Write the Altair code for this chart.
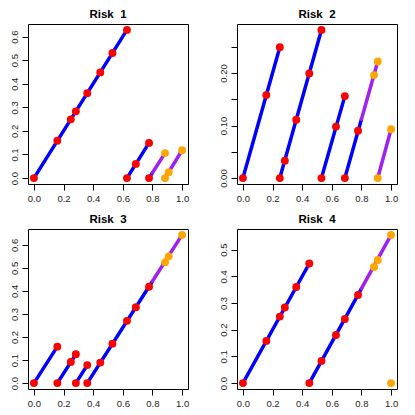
import altair as alt
import pandas as pd

# ---- data ----
titles = ["Risk \u00a01", "Risk \u00a02", "Risk \u00a03", "Risk \u00a04"]

# panel 1
p1_x = [0.0, 0.158, 0.249, 0.283, 0.36, 0.448, 0.53, 0.628,
        0.628, 0.688, 0.777,
        0.777, 0.885,
        0.885, 0.91, 1.0]
p1_y = [0.0, 0.158, 0.249, 0.283, 0.36, 0.448, 0.53, 0.628,
        0.0, 0.06, 0.149,
        0.0, 0.106,
        0.0, 0.025, 0.118]
p1_g = [1, 1, 1, 1, 1, 1, 1, 1, 2, 2, 2, 3, 3, 4, 4, 4]

# panel 2
p2_x = [0.0, 0.158, 0.249,
        0.249, 0.283, 0.36, 0.448, 0.53,
        0.53, 0.628, 0.688,
        0.688, 0.777, 0.885, 0.91,
        0.91, 1.0]
p2_y = [0.0, 0.158, 0.249,
        0.0, 0.033, 0.111, 0.199, 0.282,
        0.0, 0.098, 0.156,
        0.0, 0.09, 0.196, 0.222,
        0.0, 0.093]
p2_g = [1, 1, 1, 2, 2, 2, 2, 2, 3, 3, 3, 4, 4, 4, 4, 5, 5]

# panel 3
p3_x = [0.0, 0.158,
        0.158, 0.249, 0.283,
        0.283, 0.36,
        0.36, 0.448, 0.53, 0.628, 0.688, 0.777, 0.885, 0.91, 1.0]
p3_y = [0.0, 0.158,
        0.0, 0.092, 0.125,
        0.0, 0.078,
        0.0, 0.089, 0.171, 0.27, 0.329, 0.418, 0.524, 0.55, 0.643]
p3_g = [1, 1, 2, 2, 2, 3, 3, 4, 4, 4, 4, 4, 4, 4, 4, 4]

# panel 4
p4_x = [0.0, 0.158, 0.249, 0.283, 0.36, 0.448,
        0.448, 0.53, 0.628, 0.688, 0.777, 0.885, 0.91, 1.0,
        1.0]
p4_y = [0.0, 0.158, 0.249, 0.283, 0.36, 0.448,
        0.0, 0.083, 0.18, 0.24, 0.33, 0.435, 0.461, 0.555,
        0.0]
p4_g = [1, 1, 1, 1, 1, 1, 2, 2, 2, 2, 2, 2, 2, 2, 3]

x_ticks = [0.0, 0.2, 0.4, 0.6, 0.8, 1.0]
y_ticks = [
    [0.0, 0.1, 0.2, 0.3, 0.4, 0.5, 0.6],
    [0.0, 0.05, 0.10, 0.15, 0.20, 0.25],
    [0.0, 0.1, 0.2, 0.3, 0.4, 0.5, 0.6],
    [0.0, 0.1, 0.2, 0.3, 0.4, 0.5],
]
y_formats = [".1f", ".2f", ".1f", ".1f"]
y_label_exprs = [None, "indexof(['0.00','0.10','0.20'], datum.label) >= 0 ? datum.label : ''", None, None]

CUT = 0.8  # colour changes beyond this x
BLUE = "#0000FF"
PURPLE = "#A020F0"
RED = "#FF0000"
ORANGE = "#FFA500"
FONT = "Liberation Sans"

panels = [(p1_x, p1_y, p1_g), (p2_x, p2_y, p2_g), (p3_x, p3_y, p3_g), (p4_x, p4_y, p4_g)]


def segments(xs, ys, gs):
    rows = []
    for g in sorted(set(gs)):
        pts = [(x, y) for x, y, gg in zip(xs, ys, gs) if gg == g]
        (x0, y0), (x1, y1) = pts[0], pts[-1]
        if x1 <= x0:
            continue

        def yat(x):
            return y0 + (x - x0) * (y1 - y0) / (x1 - x0)

        if x0 < CUT:
            xe = min(x1, CUT)
            rows.append(dict(x=x0, y=y0, x2=xe, y2=yat(xe), seg="a"))
        if x1 > CUT:
            xs_ = max(x0, CUT)
            rows.append(dict(x=xs_, y=yat(xs_), x2=x1, y2=y1, seg="b"))
    return pd.DataFrame(rows)


def panel(i):
    xs, ys, gs = panels[i]
    pts = pd.DataFrame(dict(x=xs, y=ys, g=gs))
    seg = segments(xs, ys, gs)
    ymin, ymax = min(ys), max(ys)
    pad = 0.04 * (ymax - ymin)
    xdom = [-0.04, 1.04]
    ydom = [ymin - pad, ymax + pad]

    yaxis_kw = dict(values=y_ticks[i], format=y_formats[i], title=None)
    if y_label_exprs[i]:
        yaxis_kw["labelExpr"] = y_label_exprs[i]

    xenc = alt.X("x:Q", scale=alt.Scale(domain=xdom, nice=False, zero=False),
                 axis=alt.Axis(values=x_ticks, format=".1f", title=None))
    yenc = alt.Y("y:Q", scale=alt.Scale(domain=ydom, nice=False, zero=False),
                 axis=alt.Axis(**yaxis_kw))

    lines = alt.Chart(seg).mark_rule(strokeWidth=3.5, strokeCap="round").encode(
        x=xenc, y=yenc, x2="x2:Q", y2="y2:Q",
        color=alt.Color("seg:N", scale=alt.Scale(domain=["a", "b"], range=[BLUE, PURPLE]), legend=None),
    )
    dots = alt.Chart(pts).mark_circle(size=62, opacity=1).encode(
        x=xenc, y=yenc,
        color=alt.condition(alt.datum.x > CUT, alt.value(ORANGE), alt.value(RED)),
    )
    return alt.layer(lines, dots).properties(
        width=160, height=160,
        title=alt.TitleParams(titles[i], fontSize=11.5, fontWeight="bold", font=FONT,
                              color="black", offset=4),
    )


chart = alt.vconcat(
    alt.hconcat(panel(0), panel(1), spacing=27),
    alt.hconcat(panel(2), panel(3), spacing=27),
    spacing=10,
).properties(padding=0).configure_view(
    stroke="black", strokeWidth=1
).configure_axis(
    domain=False, grid=False, ticks=True, tickColor="black", tickSize=6,
    labelFont=FONT, labelFontSize=9.5, labelColor="#222222",
    labelOverlap=False, labelFlush=False, labelPadding=3,
).configure_axisY(
    labelAngle=270, labelAlign="center", labelBaseline="bottom",
).configure_concat(spacing=10)

chart.save("out.html", embed_options={"renderer": "svg", "actions": False})
